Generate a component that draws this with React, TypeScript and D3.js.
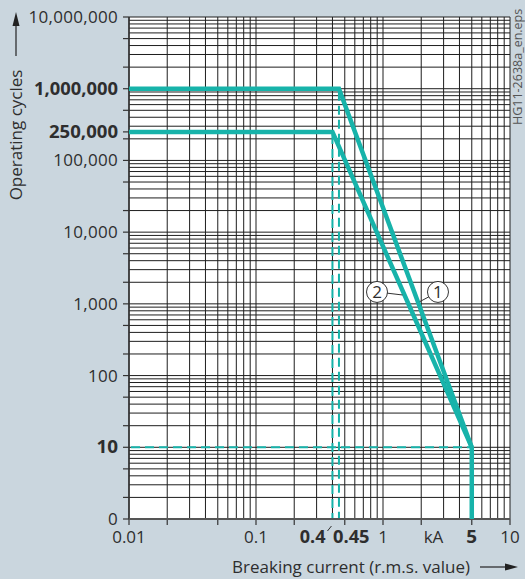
import React from "react";
import * as d3 from "d3";

// ---- data ----
const yTickValues = [1e7, 1e6, 250000, 1e5, 1e4, 1000, 100, 10, 1];
const yTickLabels = ["10,000,000", "1,000,000", "250,000", "100,000", "10,000", "1,000", "100", "10", "0"];
const yTickBold = [false, true, true, false, false, false, false, true, false];

const xTickValues = [0.01, 0.1, 1, 2.5, 5, 10];
const xTickLabels = ["0.01", "0.1", "1", "kA", "5", "10"];
const xTickBold = [false, false, false, false, true, false];

const xSpecialValues = [0.4, 0.45];
const xSpecialLabels = ["0.4", "0.45"];

const series1X = [0.01, 0.45, 5, 5];
const series1Y = [1e6, 1e6, 10, 1];
const series2X = [0.01, 0.4, 5];
const series2Y = [250000, 250000, 10];

const dashedRefX = [0.45, 0.4];
const dashedRefY = [1e6, 250000];
const dashedH = { y: 10, x0: 0.01, x1: 5 };

const calloutLabels = ["1", "2"];
const calloutX = [2.71, 0.897];
const calloutY = [1466, 1466];
const calloutTargetY = [1074, 1330];

const xMinorMultipliers = [1, 2, 3, 4, 5, 6, 7, 8, 9];
const tickMultipliers = [1, 2, 5];

// ---- layout ----
const W = 525, H = 579;
const L = 129, R = 510, T = 17, B = 519;
const TEAL = "#17b3aa";
const BG = "#cad6de";
const FONT = "'Open Sans', 'Noto Sans', sans-serif";
const BOLDFONT = "'Open Sans', 'Noto Sans', sans-serif";
const TEXT = "#2e2e2e";

// bold label widths (glyph metrics of the reference typeface)
function boldWidth(s: string) {
  let w = 0;
  for (const ch of s) w += /[0-9]/.test(ch) ? 10.8 : 4.2;
  return w;
}

const x = d3.scaleLog().domain([0.01, 10]).range([L, R]);
const y = d3.scaleLog().domain([1, 1e7]).range([B, T]);

function gridValues(lo: number, hi: number) {
  const out: number[] = [];
  for (let e = Math.log10(lo); e < Math.log10(hi); e++) {
    for (const m of xMinorMultipliers) out.push(m * Math.pow(10, e));
  }
  out.push(hi);
  return out;
}
function tickVals(lo: number, hi: number) {
  const out: number[] = [];
  for (let e = Math.log10(lo); e < Math.log10(hi); e++) {
    for (const m of tickMultipliers) out.push(m * Math.pow(10, e));
  }
  out.push(hi);
  return out;
}

function curveXAt(xs: number[], ys: number[], yv: number) {
  for (let i = 0; i < xs.length - 1; i++) {
    const y0 = ys[i], y1 = ys[i + 1];
    if (y0 !== y1 && yv <= Math.max(y0, y1) && yv >= Math.min(y0, y1)) {
      const t = (Math.log10(yv) - Math.log10(y0)) / (Math.log10(y1) - Math.log10(y0));
      return Math.pow(10, Math.log10(xs[i]) + t * (Math.log10(xs[i + 1]) - Math.log10(xs[i])));
    }
  }
  return xs[0];
}

export default function App() {
  const xGrid = gridValues(0.01, 10);
  const yGrid = gridValues(1, 1e7);
  const xt = tickVals(0.01, 10);
  const yt = tickVals(1, 1e7).concat([250000]);

  const line = d3
    .line<[number, number]>()
    .x((d) => x(d[0]))
    .y((d) => y(d[1]));

  const s1 = series1X.map((v, i) => [v, series1Y[i]] as [number, number]);
  const s2 = series2X.map((v, i) => [v, series2Y[i]] as [number, number]);
  const seriesList = [
    { xs: series1X, ys: series1Y },
    { xs: series2X, ys: series2Y },
  ];

  return (
    <svg
      width={W}
      height={H}
      style={{ position: "absolute", left: 0, top: 0, display: "block" }}
      fontFamily={FONT}
    >
      <rect x={0} y={0} width={W} height={H} fill={BG} />
      <rect x={L} y={T} width={R - L} height={B - T} fill="#fff" />

      {/* grid */}
      <g stroke="#1e1e1e" strokeWidth={1}>
        {xGrid.map((v, i) => (
          <line key={"gx" + i} x1={x(v)} x2={x(v)} y1={T} y2={B} />
        ))}
        {yGrid.map((v, i) => (
          <line key={"gy" + i} x1={L} x2={R} y1={y(v)} y2={y(v)} />
        ))}
      </g>

      {/* ticks */}
      <g stroke="#333" strokeWidth={1.2}>
        {yt.map((v, i) => (
          <line key={"ty" + i} x1={L - 6} x2={L} y1={y(v)} y2={y(v)} />
        ))}
        {xt.map((v, i) => (
          <line key={"tx" + i} x1={x(v)} x2={x(v)} y1={B} y2={B + 6} />
        ))}
      </g>

      {/* axes */}
      <line x1={L} x2={L} y1={T} y2={B} stroke="#333" strokeWidth={1.5} />
      <line x1={L} x2={R} y1={B} y2={B} stroke="#555" strokeWidth={2.2} />

      {/* dashed reference lines */}
      <g stroke={TEAL} strokeWidth={2} strokeDasharray="9,5" fill="none">
        {dashedRefX.map((v, i) => (
          <line key={"dv" + i} x1={x(v)} x2={x(v)} y1={y(dashedRefY[i]) + 3} y2={B - 1} />
        ))}
        <line x1={x(dashedH.x0) + 2} x2={x(dashedH.x1)} y1={y(dashedH.y)} y2={y(dashedH.y)} />
      </g>

      {/* curves */}
      <path d={line(s2) || ""} fill="none" stroke={TEAL} strokeWidth={4.5} strokeLinejoin="miter" />
      <path d={line(s1) || ""} fill="none" stroke={TEAL} strokeWidth={4.5} strokeLinejoin="miter" />

      {/* callouts */}
      {calloutLabels.map((lab, i) => {
        const cx = x(calloutX[i]);
        const cy = y(calloutY[i]);
        const s = seriesList[i];
        const tx = x(curveXAt(s.xs, s.ys, calloutTargetY[i]));
        const ty = y(calloutTargetY[i]);
        const dir = tx > cx ? 1 : -1;
        return (
          <g key={"c" + i}>
            <line x1={cx} y1={cy} x2={tx + (dir > 0 ? -2 : 2)} y2={ty} stroke="#333" strokeWidth={1} />
            <circle cx={cx} cy={cy} r={10.5} fill="#fff" stroke="#333" strokeWidth={1} />
            <text x={cx} y={cy + 6} textAnchor="middle" fontSize={17} fill={TEXT}>
              {lab}
            </text>
          </g>
        );
      })}

      {/* y tick labels */}
      {yTickValues.map((v, i) =>
        yTickBold[i] ? (
          <text
            key={"yl" + i}
            x={L - 11 - boldWidth(yTickLabels[i])}
            y={y(v) + 6}
            textAnchor="start"
            fontSize={17}
            fontFamily={BOLDFONT}
            fontWeight={700}
            textLength={boldWidth(yTickLabels[i])}
            lengthAdjust="spacingAndGlyphs"
            fill={TEXT}
          >
            {yTickLabels[i]}
          </text>
        ) : (
          <text
            key={"yl" + i}
            x={L - 11}
            y={y(v) + 6}
            textAnchor="end"
            fontSize={17}
            letterSpacing={0.3}
            fill={TEXT}
          >
            {yTickLabels[i]}
          </text>
        )
      )}

      {/* x tick labels */}
      {xTickValues.map((v, i) =>
        xTickBold[i] ? (
          <text
            key={"xl" + i}
            x={x(v) - boldWidth(xTickLabels[i]) / 2}
            y={543}
            textAnchor="start"
            fontSize={17}
            fontFamily={BOLDFONT}
            fontWeight={700}
            textLength={boldWidth(xTickLabels[i])}
            lengthAdjust="spacingAndGlyphs"
            fill={TEXT}
          >
            {xTickLabels[i]}
          </text>
        ) : (
          <text key={"xl" + i} x={x(v)} y={543} textAnchor="middle" fontSize={17} fill={TEXT}>
            {xTickLabels[i]}
          </text>
        )
      )}
      <text
        x={x(xSpecialValues[0]) - 7 - boldWidth(xSpecialLabels[0])}
        y={543}
        textAnchor="start"
        fontSize={17}
        fontFamily={BOLDFONT}
        fontWeight={700}
        textLength={boldWidth(xSpecialLabels[0])}
        lengthAdjust="spacingAndGlyphs"
        fill={TEXT}
      >
        {xSpecialLabels[0]}
      </text>
      <line
        x1={x(xSpecialValues[0]) - 5}
        y1={531}
        x2={x(xSpecialValues[0]) - 1}
        y2={526}
        stroke="#333"
        strokeWidth={1}
      />
      <text
        x={x(xSpecialValues[1]) - 6}
        y={543}
        textAnchor="start"
        fontSize={17}
        fontFamily={BOLDFONT}
        fontWeight={700}
        textLength={boldWidth(xSpecialLabels[1])}
        lengthAdjust="spacingAndGlyphs"
        fill={TEXT}
      >
        {xSpecialLabels[1]}
      </text>

      {/* axis titles */}
      <text x={470} y={573} textAnchor="end" fontSize={17} fill={TEXT}>
        Breaking current (r.m.s. value)
      </text>
      <line x1={480} x2={507} y1={567} y2={567} stroke="#222" strokeWidth={1.2} />
      <path d="M505,563.5 L518,567 L505,570.5 Z" fill="#222" />

      <text
        transform="translate(22,135) rotate(-90)"
        textAnchor="middle"
        fontSize={17}
        fill={TEXT}
      >
        Operating cycles
      </text>
      <line x1={16} x2={16} y1={56} y2={24} stroke="#222" strokeWidth={1.2} />
      <path d="M12.5,26 L16,12 L19.5,26 Z" fill="#222" />

      <text
        transform="translate(522,125) rotate(-90)"
        textAnchor="start"
        fontSize={12.5}
        fill="#555"
      >
        HG11-2638a_en.eps
      </text>
    </svg>
  );
}
